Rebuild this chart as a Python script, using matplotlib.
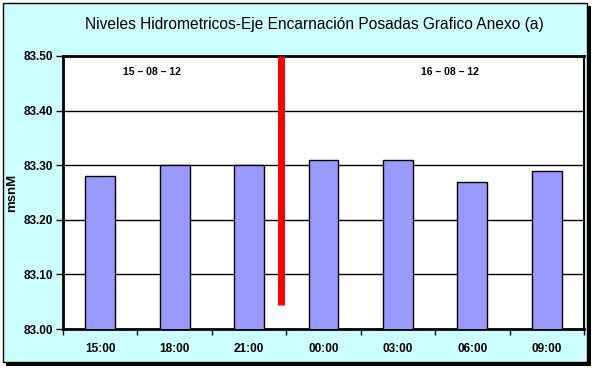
import matplotlib.pyplot as plt
from matplotlib.patches import Rectangle

horas = ['15:00', '18:00', '21:00', '00:00', '03:00', '06:00', '09:00']
niveles = [83.28, 83.30, 83.30, 83.31, 83.31, 83.27, 83.29]
y_ticks = [83.00, 83.10, 83.20, 83.30, 83.40, 83.50]
fechas = ['15 – 08 – 12', '16 – 08 – 12']
fecha_pos = [0.7, 4.7]
corte_x = 2.43
corte_bajo = 83.044

plt.rcParams['font.family'] = ['Liberation Sans', 'DejaVu Sans']

W, H = 595, 368
fig = plt.figure(figsize=(W / 100, H / 100), dpi=100)
fig.patch.set_facecolor('white')

# outer frame with shadow, kept behind the axes
fig.patches.append(Rectangle((6 / W, 2 / H), 585 / W, 360 / H, transform=fig.transFigure,
                             facecolor='black', edgecolor='none', zorder=-2))
fig.patches.append(Rectangle((3 / W, 6 / H), 584 / W, 359 / H, transform=fig.transFigure,
                             facecolor='#CCFFFF', edgecolor='black', linewidth=1, zorder=-1))

ax = fig.add_axes([63 / W, 39 / H, 521 / W, 273 / H])
ax.set_facecolor('white')
x = range(len(horas))
ax.bar(x, niveles, width=0.4, bottom=0, color='#9999FF', edgecolor='black', linewidth=1, zorder=3)
ax.set_ylim(83.0, 83.5)
ax.set_xlim(-0.5, len(horas) - 0.5)
ax.set_yticks(y_ticks)
ax.set_yticklabels([f'{v:.2f}' for v in y_ticks], fontsize=8.5, fontweight='bold')
ax.set_xticks(list(x))
ax.set_xticklabels(horas, fontsize=8.5, fontweight='bold')
ax.tick_params(axis='x', length=0, pad=10)
ax.set_xticks([i + 0.5 for i in range(-1, len(horas))], minor=True)
ax.tick_params(axis='x', which='minor', length=4, width=1, direction='out')
ax.tick_params(axis='y', length=5, width=1, direction='out', pad=2)
ax.grid(axis='y', color='black', linewidth=1, zorder=0)
ax.set_axisbelow(True)
for s in ['left', 'bottom', 'top']:
    ax.spines[s].set_linewidth(2)
ax.spines['right'].set_linewidth(1.5)

ax.vlines(corte_x, corte_bajo, 83.5, color='red', linewidth=5, zorder=4)

for f, p in zip(fechas, fecha_pos):
    ax.text(p, 83.47, f, fontsize=7.5, fontweight='bold', ha='center', va='center')

ax.set_ylabel('msnM', fontsize=9.5, fontweight='bold', labelpad=4)
fig.text(0.529, 1 - 24 / H, 'Niveles Hidrometricos-Eje Encarnación Posadas Grafico Anexo (a)',
         fontsize=11.2, ha='center', va='center')

fig.savefig('out.png', dpi=100)
